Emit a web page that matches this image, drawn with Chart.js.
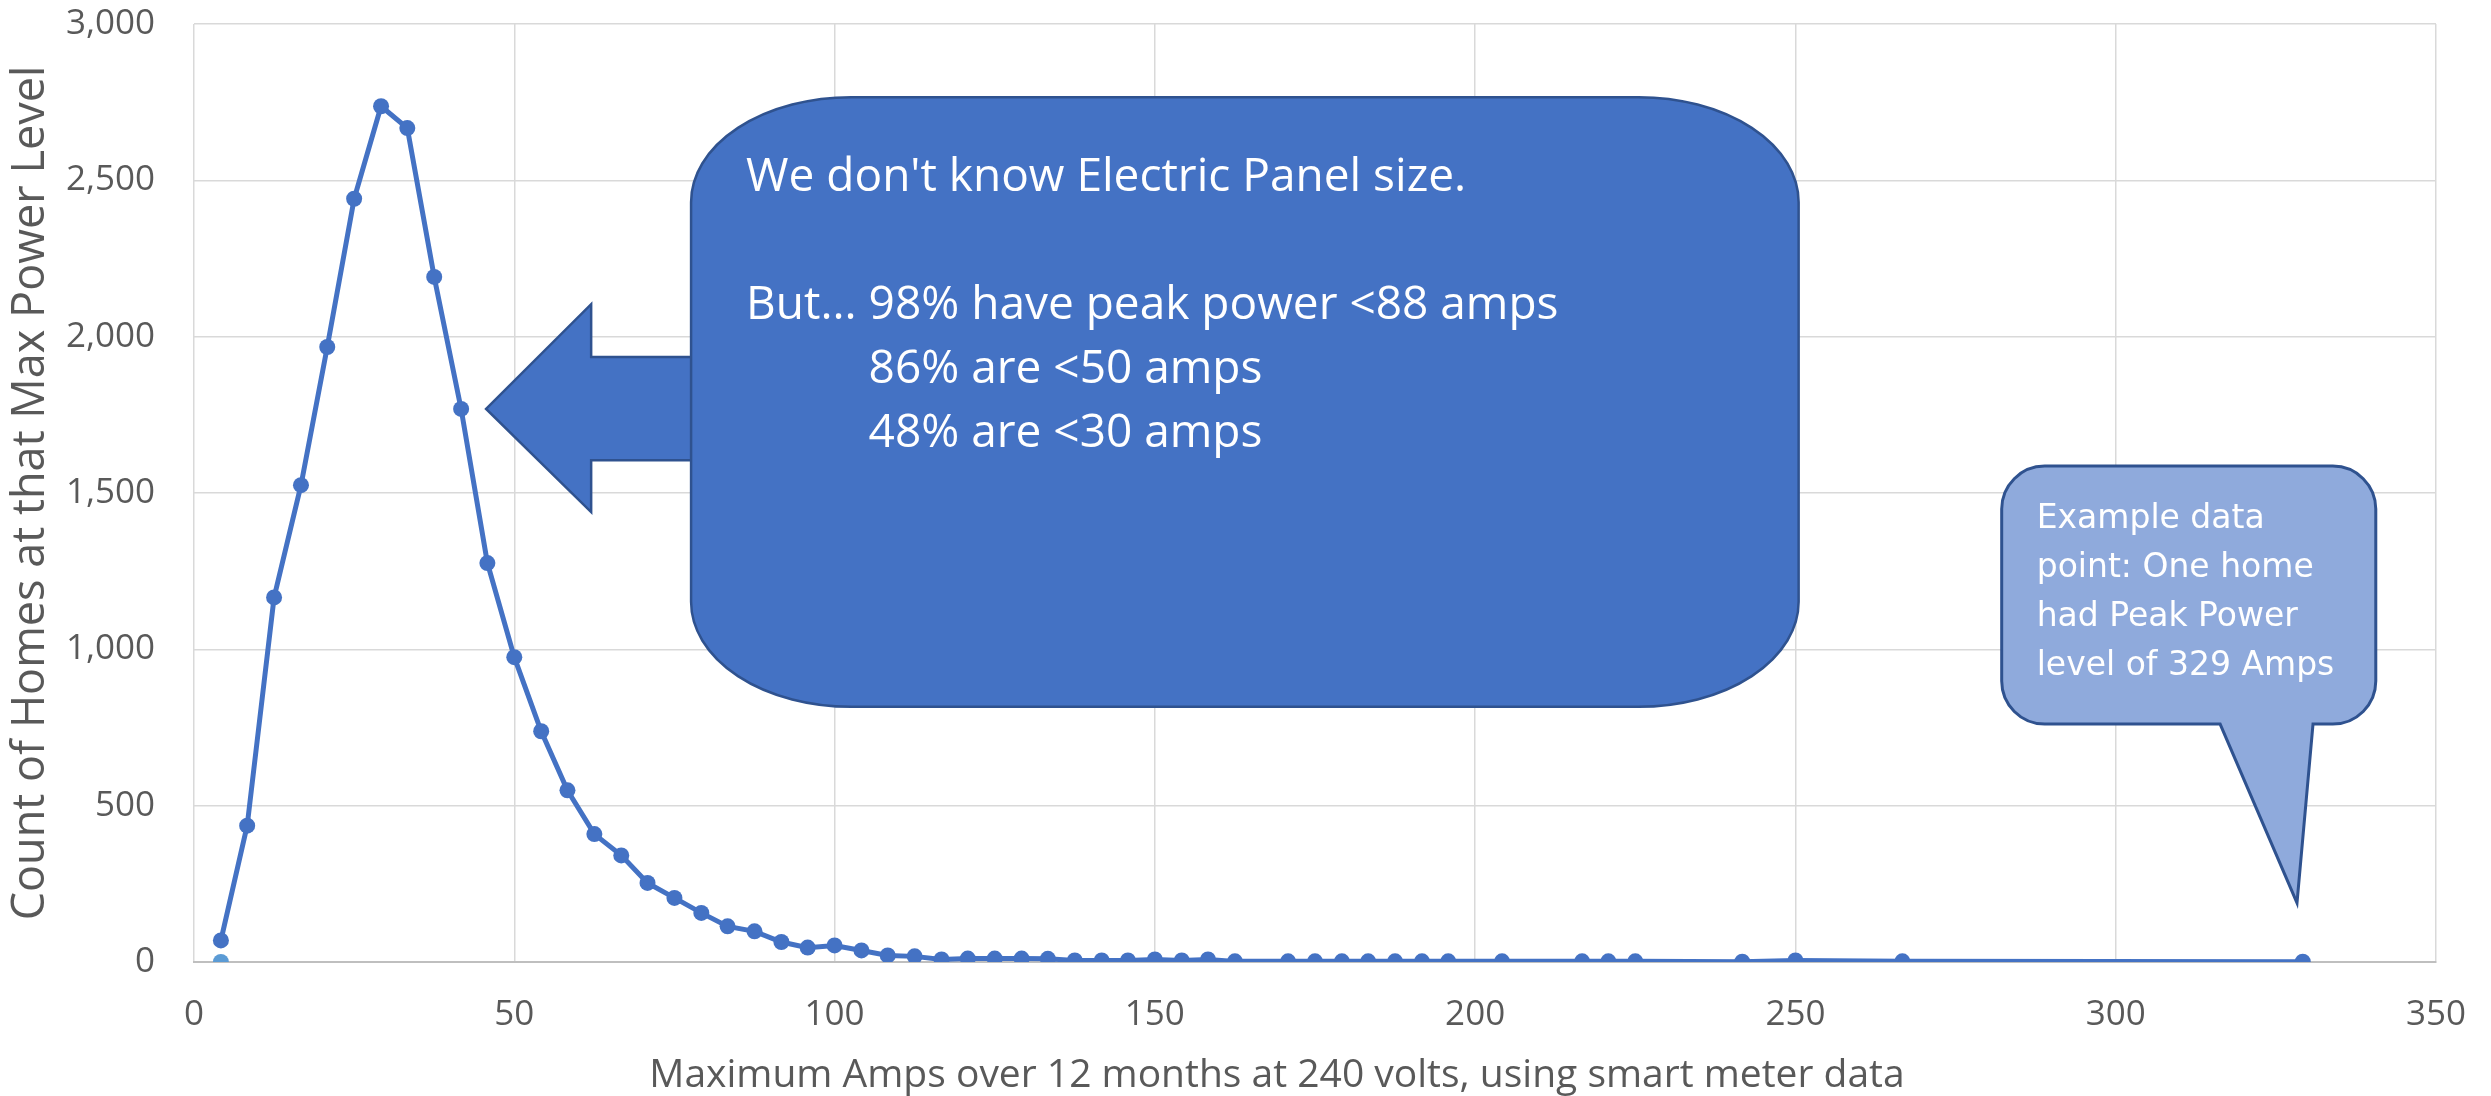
<!DOCTYPE html>
<html>
<head>
<meta charset="utf-8">
<script src="https://cdn.jsdelivr.net/npm/chart.js@4.4.1/dist/chart.umd.min.js"></script>
<style>
  html, body { margin: 0; padding: 0; background: #ffffff; }
  #wrap { width: 2491px; height: 1096px; }
</style>
</head>
<body>
<div id="wrap"><canvas id="chart" width="2491" height="1096"></canvas></div>
<script>
// Peak amps per home (1 kW bins at 240 V) and number of homes in each bin
const amps = [
  4.2, 8.3, 12.5, 16.7, 20.8, 25.0, 29.2, 33.3, 37.5, 41.7,
  45.8, 50.0, 54.2, 58.3, 62.5, 66.7, 70.8, 75.0, 79.2, 83.3,
  87.5, 91.7, 95.8, 100.0, 104.2, 108.3, 112.5, 116.7, 120.8, 125.0,
  129.2, 133.3, 137.5, 141.7, 145.8, 150.0, 154.2, 158.3, 162.5, 170.8,
  175.0, 179.2, 183.3, 187.5, 191.7, 195.8, 204.2, 216.7, 220.8, 225.0,
  241.7, 250.0, 266.7, 329.2
];
const homes = [
  69, 436, 1166, 1525, 1967, 2441, 2737, 2667, 2191, 1769,
  1276, 975, 738, 549, 409, 341, 253, 205, 157, 114,
  98, 64, 46, 53, 37, 21, 18, 8, 11, 11,
  11, 10, 5, 5, 5, 8, 5, 8, 2, 2,
  2, 2, 2, 2, 2, 2, 2, 2, 2, 2,
  1, 5, 2, 1
];
// Second series: a single point on the baseline
const baseAmps = [4.2];
const baseHomes = [0];

const xTickValues = [0, 50, 100, 150, 200, 250, 300, 350];
const yTickValues = [0, 500, 1000, 1500, 2000, 2500, 3000];

const xTitle = 'Maximum Amps over 12 months at 240 volts, using smart meter data';
const yTitle = 'Count of Homes at that Max Power Level';

const panelNote = [
  "We don't know Electric Panel size.",
  "",
  "But... 98% have peak power <88 amps",
  "86% are <50 amps",
  "48% are <30 amps"
];
const panelIndentPrefix = "But... ";
const exampleNote = ["Example data", "point: One home", "had Peak Power", "level of 329 Amps"];

// Shapes anchored in data units (amps, homes)
const shapes = {
  panelBox: { x0: 77.6, x1: 250.5, y0: 2766, y1: 816 },
  arrow: { tipX: 45.6, tipY: 1769, headX: 62.0, headTop: 2104, headBottom: 1439,
           shaftTop: 1935, shaftBottom: 1605, shaftEnd: 95 },
  exampleBox: { x0: 282.2, x1: 340.6, y0: 1586, y1: 761,
                baseL: 316.3, baseR: 330.8, tipX: 328.3, tipY: 189 }
};

const BLUE = '#4472C4';
const BLUE_EDGE = '#2F528F';
const LIGHT_BLUE = '#8FAADC';
const TEXT_GREY = '#595959';

function roundedPath(ctx, x0, y0, x1, y1, rx, ry, pointer) {
  ctx.beginPath();
  ctx.moveTo(x0 + rx, y0);
  ctx.lineTo(x1 - rx, y0);
  ctx.ellipse(x1 - rx, y0 + ry, rx, ry, 0, -Math.PI / 2, 0);
  ctx.lineTo(x1, y1 - ry);
  ctx.ellipse(x1 - rx, y1 - ry, rx, ry, 0, 0, Math.PI / 2);
  if (pointer) {
    ctx.lineTo(pointer.r, y1);
    ctx.lineTo(pointer.tx, pointer.ty);
    ctx.lineTo(pointer.l, y1);
  }
  ctx.lineTo(x0 + rx, y1);
  ctx.ellipse(x0 + rx, y1 - ry, rx, ry, 0, Math.PI / 2, Math.PI);
  ctx.lineTo(x0, y0 + ry);
  ctx.ellipse(x0 + rx, y0 + ry, rx, ry, 0, Math.PI, 1.5 * Math.PI);
  ctx.closePath();
}

const calloutPlugin = {
  id: 'callouts',
  afterDatasetsDraw(chart) {
    const ctx = chart.ctx;
    const xs = chart.scales.x, ys = chart.scales.y;
    const px = v => xs.getPixelForValue(v);
    const py = v => ys.getPixelForValue(v);
    ctx.save();

    // Block arrow pointing at the falling side of the curve
    const a = shapes.arrow;
    ctx.beginPath();
    ctx.moveTo(px(a.tipX), py(a.tipY));
    ctx.lineTo(px(a.headX), py(a.headTop));
    ctx.lineTo(px(a.headX), py(a.shaftTop));
    ctx.lineTo(px(a.shaftEnd), py(a.shaftTop));
    ctx.lineTo(px(a.shaftEnd), py(a.shaftBottom));
    ctx.lineTo(px(a.headX), py(a.shaftBottom));
    ctx.lineTo(px(a.headX), py(a.headBottom));
    ctx.closePath();
    ctx.fillStyle = BLUE;
    ctx.fill();
    ctx.lineWidth = 2.5;
    ctx.strokeStyle = BLUE_EDGE;
    ctx.stroke();

    // Main note box
    const b = shapes.panelBox;
    const bx0 = px(b.x0), bx1 = px(b.x1), by0 = py(b.y0), by1 = py(b.y1);
    roundedPath(ctx, bx0, by0, bx1, by1, 160, 105);
    ctx.fillStyle = BLUE;
    ctx.fill();
    ctx.lineWidth = 2.5;
    ctx.strokeStyle = BLUE_EDGE;
    ctx.stroke();

    ctx.fillStyle = '#ffffff';
    ctx.font = '46px "Open Sans"';
    ctx.textAlign = 'left';
    ctx.textBaseline = 'alphabetic';
    const indent = ctx.measureText(panelIndentPrefix).width;
    panelNote.forEach((line, i) => {
      const dx = i >= 3 ? indent : 0;
      ctx.fillText(line, bx0 + 55 + dx, by0 + 94 + i * 64);
    });

    // Example-point speech bubble
    const e = shapes.exampleBox;
    const ex0 = px(e.x0), ex1 = px(e.x1), ey0 = py(e.y0), ey1 = py(e.y1);
    roundedPath(ctx, ex0, ey0, ex1, ey1, 43, 43,
      { l: px(e.baseL), r: px(e.baseR), tx: px(e.tipX), ty: py(e.tipY) });
    ctx.fillStyle = LIGHT_BLUE;
    ctx.fill();
    ctx.lineWidth = 3;
    ctx.strokeStyle = BLUE_EDGE;
    ctx.stroke();

    ctx.fillStyle = '#ffffff';
    ctx.font = '33px "DejaVu Sans"';
    exampleNote.forEach((line, i) => {
      ctx.fillText(line, ex0 + 35, ey0 + 62 + i * 49);
    });

    ctx.restore();
  },
  afterDraw(chart) {
    // Horizontal axis title, centred under the chart
    const ctx = chart.ctx;
    ctx.save();
    ctx.fillStyle = TEXT_GREY;
    ctx.font = '39px "Open Sans"';
    ctx.textAlign = 'center';
    ctx.textBaseline = 'alphabetic';
    ctx.fillText(xTitle, 1277, 1087);
    ctx.restore();
  }
};

new Chart(document.getElementById('chart'), {
  type: 'line',
  data: {
    datasets: [
      {
        label: 'Homes',
        data: amps.map((x, i) => ({ x, y: homes[i] })),
        borderColor: BLUE,
        backgroundColor: BLUE,
        borderWidth: 5,
        pointRadius: 8,
        pointBorderWidth: 0,
        pointBackgroundColor: BLUE,
        tension: 0
      },
      {
        label: 'Baseline',
        data: baseAmps.map((x, i) => ({ x, y: baseHomes[i] })),
        showLine: false,
        borderColor: '#5B9BD5',
        backgroundColor: '#5B9BD5',
        pointRadius: 8,
        pointBorderWidth: 0,
        pointBackgroundColor: '#5B9BD5'
      }
    ]
  },
  options: {
    responsive: false,
    animation: false,
    devicePixelRatio: 1,
    layout: { padding: { top: 24, right: 55, left: 0, bottom: 0 } },
    plugins: {
      legend: { display: false },
      tooltip: { enabled: false }
    },
    scales: {
      x: {
        type: 'linear',
        min: 0, max: 350,
        afterBuildTicks: s => { s.ticks = xTickValues.map(v => ({ value: v })); },
        afterFit: s => { s.height = 134; s.paddingLeft = 0; s.paddingRight = 0; },
        grid: { color: '#d9d9d9', lineWidth: 1.5, drawTicks: false },
        border: { display: true, color: '#bfbfbf', width: 2 },
        ticks: { color: TEXT_GREY, font: { family: 'Open Sans', size: 35 }, padding: 32, maxRotation: 0 },
        title: { display: false, text: xTitle }
      },
      y: {
        min: 0, max: 3000,
        afterBuildTicks: s => { s.ticks = yTickValues.map(v => ({ value: v })); },
        afterFit: s => { s.width = 194; s.paddingTop = 0; s.paddingBottom = 0; },
        grid: { color: '#d9d9d9', lineWidth: 1.5, drawTicks: false },
        border: { display: false },
        ticks: { color: TEXT_GREY, font: { family: 'Open Sans', size: 35 }, padding: 39,
                 callback: v => v.toLocaleString('en-US') },
        title: { display: true, text: yTitle, color: TEXT_GREY,
                 font: { family: 'Open Sans', size: 45, lineHeight: 1.2 }, padding: { top: 4, bottom: 0 } }
      }
    }
  },
  plugins: [calloutPlugin]
});
</script>
</body>
</html>
